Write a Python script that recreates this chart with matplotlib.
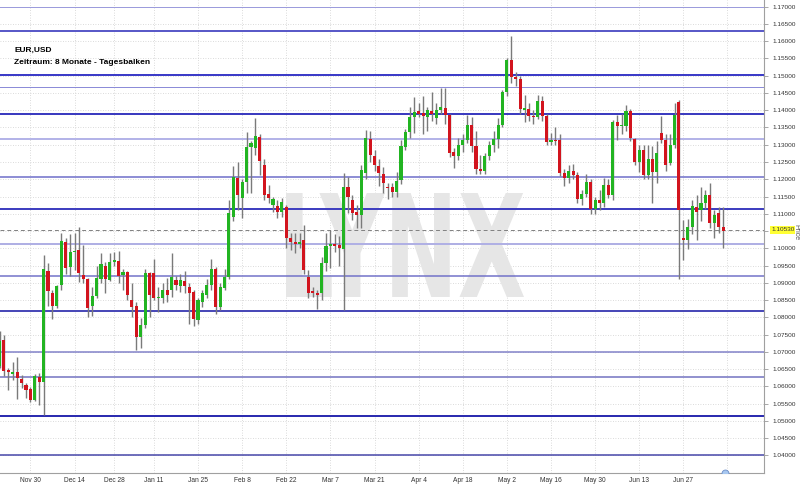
import numpy as np
import pandas as pd
import matplotlib
matplotlib.use("Agg")
import matplotlib.pyplot as plt
from matplotlib.textpath import TextPath
from matplotlib.patches import PathPatch
from matplotlib.font_manager import FontProperties
from matplotlib.transforms import Affine2D, blended_transform_factory

# EUR/USD daily bars, 19 Nov 2015 - 8 Jul 2016 (no bars on 25 Dec / 1 Jan)
days = pd.bdate_range("2015-11-19", "2016-07-08")
days = days[~days.isin(pd.to_datetime(["2015-12-25", "2016-01-01"]))]

opens = [1.0658, 1.0735, 1.0647, 1.0636, 1.0642, 1.0621, 1.0604, 1.0591, 1.0560, 1.0628,
         1.0612, 1.0935, 1.0870, 1.0834, 1.0894, 1.1019, 1.0947, 1.0988, 1.0995, 1.0923,
         1.0910, 1.0833, 1.0862, 1.0910, 1.0949, 1.0908, 1.0961, 1.0964, 1.0922, 1.0932,
         1.0850, 1.0833, 1.0744, 1.0778, 1.0929, 1.0927, 1.0855, 1.0855, 1.0879, 1.0879,
         1.0908, 1.0891, 1.0905, 1.0889, 1.0874, 1.0792, 1.0845, 1.0865, 1.0894, 1.0939,
         1.0831, 1.0884, 1.0918, 1.1092, 1.1203, 1.1145, 1.1193, 1.1294, 1.1290, 1.1322,
         1.1241, 1.1157, 1.1125, 1.1122, 1.1106, 1.1121, 1.1029, 1.1019, 1.1012, 1.1024,
         1.0918, 1.0877, 1.0871, 1.0869, 1.0956, 1.1006, 1.1012, 1.1009, 1.0999, 1.1178,
         1.1140, 1.1105, 1.1095, 1.1217, 1.1316, 1.1267, 1.1238, 1.1215, 1.1178, 1.1177,
         1.1164, 1.1198, 1.1294, 1.1338, 1.1380, 1.1399, 1.1391, 1.1381, 1.1398, 1.1377,
         1.1401, 1.1406, 1.1386, 1.1280, 1.1267, 1.1299, 1.1314, 1.1358, 1.1295, 1.1229,
         1.1223, 1.1267, 1.1298, 1.1318, 1.1356, 1.1452, 1.1546, 1.1497, 1.1491, 1.1402,
         1.1404, 1.1384, 1.1380, 1.1428, 1.1382, 1.1309, 1.1313, 1.1313, 1.1217, 1.1204,
         1.1223, 1.1212, 1.1142, 1.1158, 1.1192, 1.1115, 1.1139, 1.1131, 1.1183, 1.1153,
         1.1366, 1.1355, 1.1355, 1.1397, 1.1316, 1.1251, 1.1285, 1.1211, 1.1260, 1.1222,
         1.1333, 1.1313, 1.1247, 1.1299, 1.1425, 1.1029, 1.1024, 1.1063, 1.1120, 1.1111,
         1.1130, 1.1154, 1.1072, 1.1101, 1.1063]
highs = [1.0761, 1.0750, 1.0652, 1.0671, 1.0686, 1.0633, 1.0610, 1.0598, 1.0637, 1.0640,
         1.0981, 1.0956, 1.0880, 1.0895, 1.1043, 1.1030, 1.1040, 1.1043, 1.1061, 1.1010,
         1.0915, 1.0889, 1.0948, 1.0985, 1.0960, 1.0985, 1.0990, 1.0992, 1.0940, 1.0935,
         1.0900, 1.0845, 1.0797, 1.0940, 1.0932, 1.0968, 1.0889, 1.0900, 1.0915, 1.0985,
         1.0920, 1.0925, 1.0935, 1.0900, 1.0880, 1.0855, 1.0880, 1.0910, 1.0968, 1.0945,
         1.0900, 1.0939, 1.1140, 1.1238, 1.1251, 1.1200, 1.1338, 1.1312, 1.1377, 1.1330,
         1.1260, 1.1184, 1.1149, 1.1140, 1.1145, 1.1125, 1.1045, 1.1045, 1.1045, 1.1067,
         1.0937, 1.0889, 1.0880, 1.0976, 1.1043, 1.1053, 1.1040, 1.1035, 1.1218, 1.1207,
         1.1154, 1.1125, 1.1240, 1.1343, 1.1340, 1.1285, 1.1260, 1.1235, 1.1190, 1.1190,
         1.1220, 1.1313, 1.1345, 1.1410, 1.1439, 1.1420, 1.1440, 1.1410, 1.1453, 1.1420,
         1.1463, 1.1464, 1.1390, 1.1290, 1.1320, 1.1330, 1.1386, 1.1380, 1.1340, 1.1270,
         1.1275, 1.1310, 1.1340, 1.1378, 1.1460, 1.1550, 1.1616, 1.1510, 1.1500, 1.1445,
         1.1420, 1.1400, 1.1445, 1.1440, 1.1390, 1.1335, 1.1350, 1.1330, 1.1230, 1.1240,
         1.1245, 1.1220, 1.1170, 1.1216, 1.1200, 1.1150, 1.1170, 1.1205, 1.1200, 1.1373,
         1.1385, 1.1390, 1.1415, 1.1405, 1.1320, 1.1300, 1.1300, 1.1300, 1.1295, 1.1310,
         1.1382, 1.1330, 1.1330, 1.1422, 1.1430, 1.1081, 1.1085, 1.1140, 1.1154, 1.1178,
         1.1170, 1.1188, 1.1110, 1.1120, 1.1120]
lows = [1.0652, 1.0630, 1.0590, 1.0618, 1.0562, 1.0594, 1.0566, 1.0554, 1.0556, 1.0545,
        1.0517, 1.0833, 1.0796, 1.0828, 1.0878, 1.0925, 1.0920, 1.0937, 1.0903, 1.0900,
        1.0802, 1.0804, 1.0855, 1.0900, 1.0870, 1.0905, 1.0950, 1.0898, 1.0880, 1.0850,
        1.0800, 1.0705, 1.0712, 1.0770, 1.0800, 1.0850, 1.0816, 1.0840, 1.0845, 1.0860,
        1.0880, 1.0874, 1.0870, 1.0780, 1.0775, 1.0780, 1.0830, 1.0855, 1.0880, 1.0809,
        1.0820, 1.0880, 1.0910, 1.1080, 1.1111, 1.1087, 1.1160, 1.1160, 1.1270, 1.1212,
        1.1140, 1.1130, 1.1104, 1.1087, 1.1090, 1.1000, 1.0995, 1.0985, 1.1000, 1.0925,
        1.0855, 1.0860, 1.0823, 1.0850, 1.0935, 1.0942, 1.0990, 1.0950, 1.0822, 1.1101,
        1.1082, 1.1060, 1.1058, 1.1200, 1.1250, 1.1225, 1.1180, 1.1160, 1.1144, 1.1150,
        1.1150, 1.1185, 1.1285, 1.1320, 1.1333, 1.1380, 1.1332, 1.1340, 1.1370, 1.1360,
        1.1390, 1.1360, 1.1265, 1.1232, 1.1255, 1.1280, 1.1305, 1.1280, 1.1216, 1.1215,
        1.1215, 1.1255, 1.1280, 1.1290, 1.1350, 1.1440, 1.1480, 1.1470, 1.1390, 1.1366,
        1.1370, 1.1360, 1.1375, 1.1370, 1.1300, 1.1300, 1.1300, 1.1210, 1.1180, 1.1190,
        1.1200, 1.1130, 1.1125, 1.1150, 1.1100, 1.1100, 1.1110, 1.1120, 1.1145, 1.1140,
        1.1315, 1.1330, 1.1340, 1.1310, 1.1240, 1.1220, 1.1200, 1.1200, 1.1131, 1.1190,
        1.1304, 1.1225, 1.1240, 1.1290, 1.0912, 1.0966, 1.0999, 1.1040, 1.1024, 1.1080,
        1.1115, 1.1060, 1.1029, 1.1045, 1.1000]
closes = [1.0732, 1.0643, 1.0642, 1.0642, 1.0623, 1.0609, 1.0589, 1.0560, 1.0630, 1.0612,
          1.0939, 1.0877, 1.0834, 1.0891, 1.1022, 1.0942, 1.0990, 1.0991, 1.0929, 1.0910,
          1.0826, 1.0862, 1.0913, 1.0954, 1.0910, 1.0961, 1.0966, 1.0920, 1.0932, 1.0865,
          1.0829, 1.0744, 1.0778, 1.0929, 1.0865, 1.0855, 1.0856, 1.0879, 1.0865, 1.0916,
          1.0894, 1.0908, 1.0891, 1.0871, 1.0794, 1.0850, 1.0871, 1.0894, 1.0939, 1.0831,
          1.0889, 1.0918, 1.1101, 1.1207, 1.1154, 1.1193, 1.1294, 1.1306, 1.1325, 1.1253,
          1.1154, 1.1145, 1.1142, 1.1106, 1.1135, 1.1029, 1.1019, 1.1012, 1.1019, 1.0937,
          1.0871, 1.0869, 1.0865, 1.0956, 1.1006, 1.1012, 1.1006, 1.1000, 1.1178, 1.1149,
          1.1101, 1.1096, 1.1227, 1.1319, 1.1270, 1.1241, 1.1217, 1.1188, 1.1174, 1.1164,
          1.1195, 1.1295, 1.1338, 1.1380, 1.1396, 1.1390, 1.1383, 1.1401, 1.1390, 1.1401,
          1.1409, 1.1386, 1.1275, 1.1267, 1.1299, 1.1314, 1.1358, 1.1295, 1.1229, 1.1223,
          1.1267, 1.1298, 1.1318, 1.1356, 1.1452, 1.1546, 1.1497, 1.1491, 1.1405, 1.1406,
          1.1384, 1.1380, 1.1428, 1.1382, 1.1309, 1.1313, 1.1311, 1.1217, 1.1204, 1.1223,
          1.1212, 1.1142, 1.1158, 1.1192, 1.1115, 1.1139, 1.1131, 1.1183, 1.1153, 1.1366,
          1.1355, 1.1357, 1.1397, 1.1319, 1.1251, 1.1285, 1.1211, 1.1260, 1.1222, 1.1277,
          1.1313, 1.1241, 1.1299, 1.1386, 1.1111, 1.1024, 1.1063, 1.1122, 1.1106, 1.1132,
          1.1154, 1.1072, 1.1096, 1.1063, 1.1051]

last_price = 1.1053

# drawn support / resistance levels
levels = [1.1700, 1.1630, 1.1502, 1.1467, 1.1388, 1.1317, 1.1207, 1.1113,
          1.1012, 1.0920, 1.0817, 1.0700, 1.0626, 1.0515, 1.0400]
level_px = [1, 2, 2, 1, 2, 2, 1.5, 2, 2, 1.5, 2, 1.5, 1.5, 2, 1.5]
level_colors = ["#9c9cdc", "#5a5ac8", "#3c3cc8", "#8c8cd8", "#3c3cc0", "#b4b4e8", "#6a6ac8",
                "#4040c0", "#b0b0e4", "#7070c8", "#4a4ab8", "#8080c8", "#7070c0", "#2c2cb0",
                "#4444a8"]

tick_dates = ["2015-11-30", "2015-12-14", "2015-12-28", "2016-01-11", "2016-01-25",
              "2016-02-08", "2016-02-22", "2016-03-07", "2016-03-21", "2016-04-04",
              "2016-04-18", "2016-05-02", "2016-05-16", "2016-05-30", "2016-06-13",
              "2016-06-27"]
tick_labels = ["Nov 30", "Dec 14", "Dec 28", "Jan 11", "Jan 25", "Feb 8", "Feb 22", "Mar 7",
               "Mar 21", "Apr 4", "Apr 18", "May 2", "May 16", "May 30", "Jun 13", "Jun 27"]

plt.rcParams["font.family"] = ["Liberation Sans", "DejaVu Sans"]

W, H = 800, 486
fig = plt.figure(figsize=(W / 100, H / 100), dpi=100)
ax = fig.add_axes([0, 13 / H, 764 / W, 473 / H])

o = np.array(opens)
h = np.array(highs)
l = np.array(lows)
c = np.array(closes)
x = np.arange(len(o))
up = c >= o

# wicks then bodies
ax.vlines(x, l, h, color="#7a7a7a", lw=1, zorder=3)
body_lo = np.minimum(o, c)
body_h = np.maximum(np.abs(c - o), 0.00025)
ax.bar(x[up], body_h[up], bottom=body_lo[up], width=0.7, color="#22b422", lw=0, zorder=4)
ax.bar(x[~up], body_h[~up], bottom=body_lo[~up], width=0.7, color="#d2141e", lw=0, zorder=4)

for lev, px, col in zip(levels, level_px, level_colors):
    ax.axhline(lev, color=col, lw=px * 0.72, zorder=2)

ax.axhline(last_price, color="#808080", lw=0.7, ls=(0, (4, 3)), zorder=2)

ax.set_xlim(0.113, 173.28)
ax.set_ylim(1.03488, 1.17194)

# price axis on the right; the 1.10500 label is covered by the last price box
yt = np.arange(1.04, 1.17001, 0.005)
ax.yaxis.tick_right()
ax.set_yticks(yt)
ax.set_yticklabels(["" if abs(v - last_price) < 0.0025 else "%.5f" % v for v in yt])
ax.tick_params(axis="y", length=3, width=0.6, color="#999999", labelsize=4.6,
               labelcolor="#333333", pad=3)

xt = [days.get_loc(pd.Timestamp(d)) for d in tick_dates] + [len(days)]
ax.set_xticks(xt)
ax.set_xticklabels(tick_labels + [""])
ax.tick_params(axis="x", length=0, labelsize=4.8, labelcolor="#333333", pad=3)

ax.grid(True, color="#cfcfcf", lw=0.6, ls=(0, (1, 2)))
ax.set_axisbelow(True)
for s in ["top", "left"]:
    ax.spines[s].set_visible(False)
for s in ["right", "bottom"]:
    ax.spines[s].set_color("#a0a0a0")
    ax.spines[s].set_linewidth(0.8)

# last price box
tr = blended_transform_factory(ax.transAxes, ax.transData)
ax.text(1 + 7 / 764, last_price, "%.5f" % last_price, transform=tr, fontsize=4.6,
        color="#333333", va="center", ha="left",
        bbox=dict(facecolor="#ffff33", edgecolor="none", pad=0.8))
fig.text(796 / W, 1 - 232 / H, "Price", rotation=-90, fontsize=5, color="#555555",
         ha="center", va="center")

# LYNX watermark
tp = TextPath((0, 0), "LYNX", size=1, prop=FontProperties(family="DejaVu Sans", weight="bold"))
ext = tp.get_extents()
wm = Affine2D().translate(-ext.x0, -ext.y0).scale(238 / ext.width / W, 104 / ext.height / H)
wm = wm.translate(286 / W, (H - 297) / H)
ax.add_patch(PathPatch(tp, transform=wm + fig.transFigure, color="#e6e6e6", lw=0,
                       zorder=1, clip_on=False))

# small marker at the bottom
ax.plot([726 / 4.412], [1.03488], marker="o", ms=5, color="#a8c8f0", mec="#6a8cc8",
        mew=0.6, clip_on=True, zorder=5)

# title
ttl = ["Liberation Sans Narrow", "Liberation Sans", "DejaVu Sans"]
fig.text(14 / W, 1 - 50 / H, "EUR,USD", fontsize=6, fontweight="bold", family=ttl,
         va="center", ha="left")
fig.text(14 / W, 1 - 62 / H, "Zeitraum: 8 Monate - Tagesbalken", fontsize=6,
         fontweight="bold", family=ttl, va="center", ha="left")

fig.savefig("out.png", dpi=100)
